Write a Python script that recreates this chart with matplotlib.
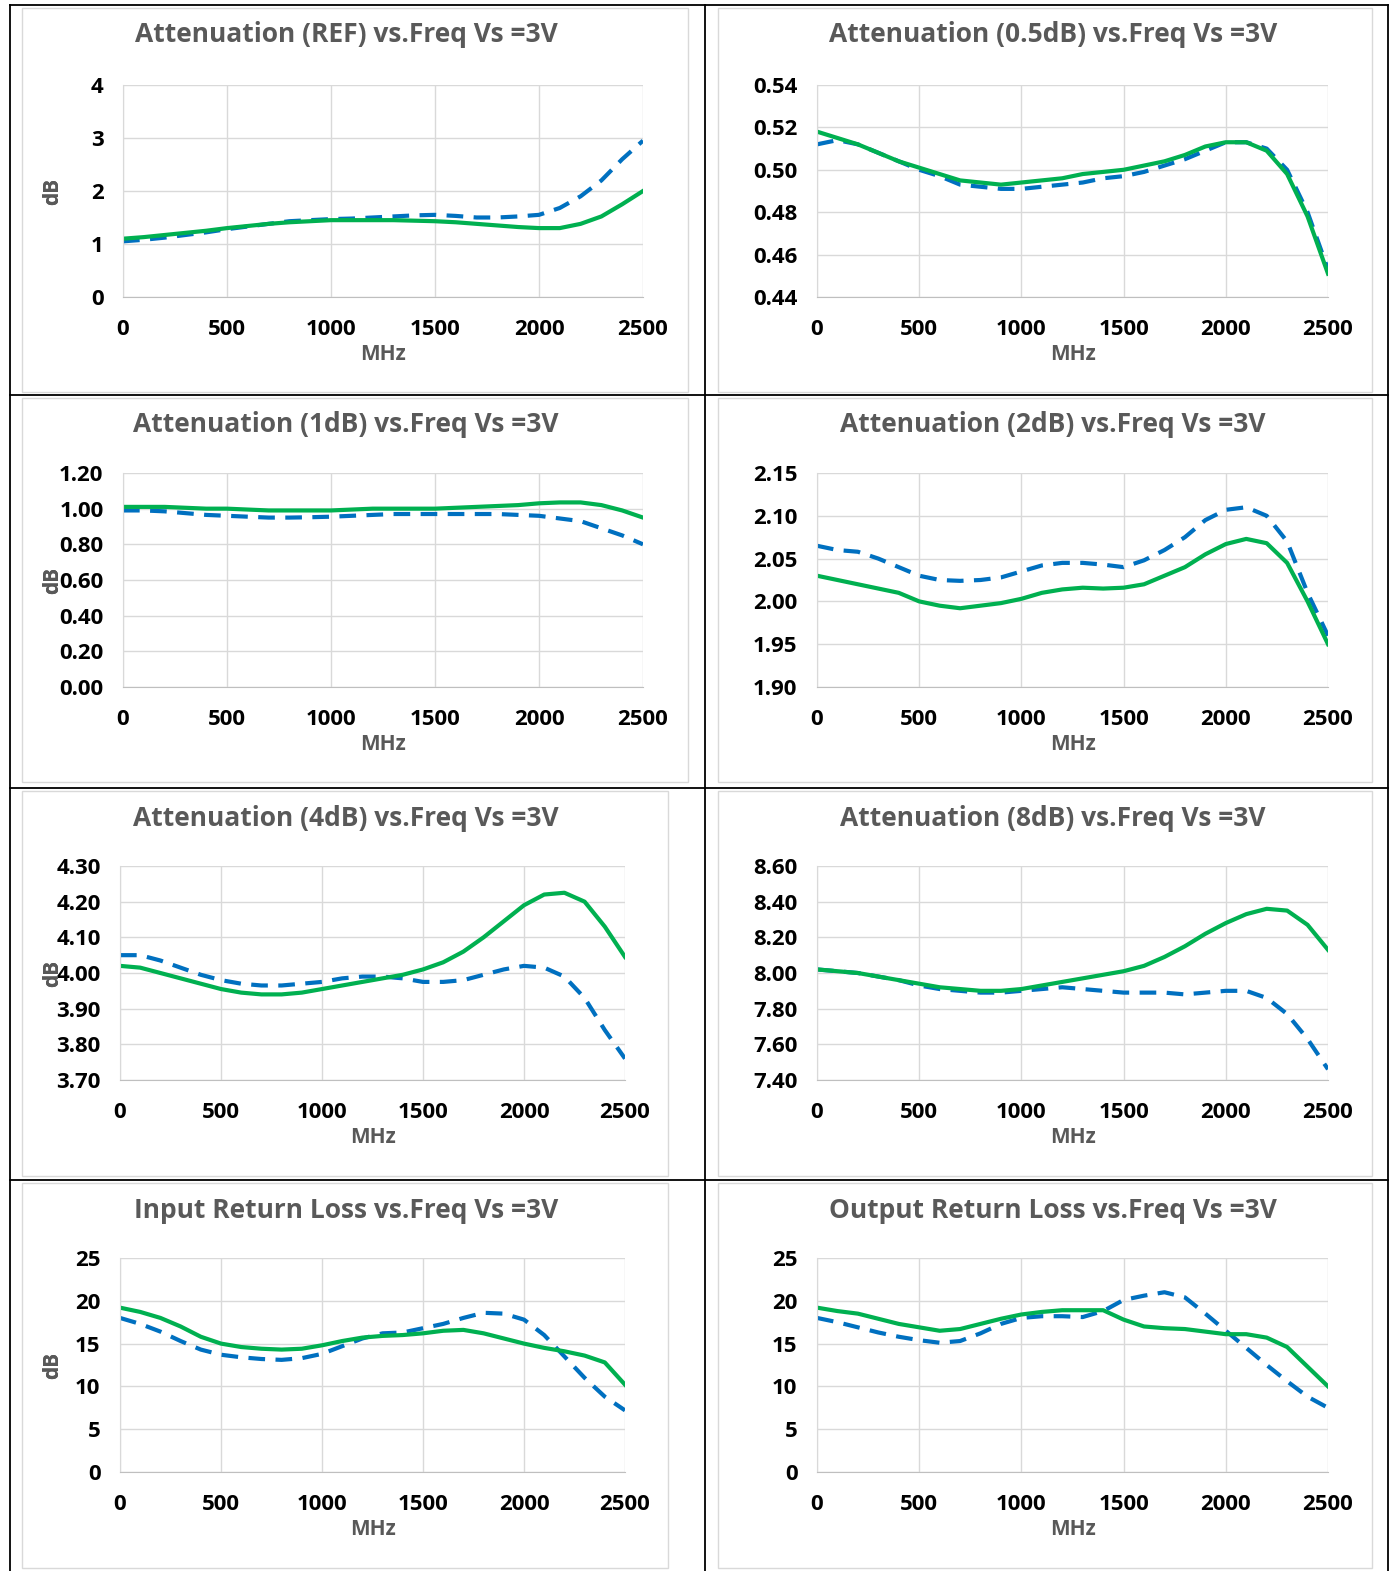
import matplotlib
matplotlib.use("Agg")
import matplotlib.pyplot as plt
from matplotlib.lines import Line2D
from matplotlib.patches import Rectangle

plt.rcParams['font.family'] = ['Open Sans', 'DejaVu Sans']

W, H = 1397, 1571
freq = list(range(0, 2600, 100))

ref_g = [1.1, 1.13, 1.17, 1.21, 1.25, 1.3, 1.34, 1.38, 1.41, 1.43, 1.45, 1.45, 1.45, 1.45, 1.44, 1.43, 1.41, 1.38, 1.35, 1.32, 1.3, 1.3, 1.38, 1.52, 1.75, 2.0]
ref_b = [1.05, 1.08, 1.12, 1.17, 1.22, 1.28, 1.33, 1.38, 1.43, 1.45, 1.47, 1.48, 1.5, 1.52, 1.54, 1.55, 1.53, 1.5, 1.5, 1.52, 1.55, 1.68, 1.9, 2.2, 2.6, 2.95]
h05_g = [0.518, 0.515, 0.512, 0.508, 0.504, 0.501, 0.498, 0.495, 0.494, 0.493, 0.494, 0.495, 0.496, 0.498, 0.499, 0.500, 0.502, 0.504, 0.507, 0.511, 0.513, 0.513, 0.509, 0.498, 0.478, 0.451]
h05_b = [0.512, 0.514, 0.512, 0.508, 0.504, 0.500, 0.497, 0.493, 0.492, 0.491, 0.491, 0.492, 0.493, 0.494, 0.496, 0.497, 0.499, 0.502, 0.505, 0.509, 0.513, 0.513, 0.510, 0.500, 0.480, 0.453]
d1_g = [1.01, 1.01, 1.01, 1.005, 1.0, 1.0, 0.995, 0.99, 0.99, 0.99, 0.99, 0.995, 1.0, 1.0, 1.0, 1.0, 1.005, 1.01, 1.015, 1.02, 1.03, 1.035, 1.035, 1.02, 0.99, 0.95]
d1_b = [0.99, 0.99, 0.985, 0.975, 0.965, 0.96, 0.955, 0.95, 0.95, 0.952, 0.955, 0.96, 0.965, 0.97, 0.97, 0.97, 0.97, 0.97, 0.97, 0.965, 0.96, 0.945, 0.93, 0.89, 0.85, 0.8]
d2_g = [2.03, 2.025, 2.02, 2.015, 2.01, 2.0, 1.995, 1.992, 1.995, 1.998, 2.003, 2.01, 2.014, 2.016, 2.015, 2.016, 2.02, 2.03, 2.04, 2.055, 2.067, 2.073, 2.068, 2.045, 2.0, 1.95]
d2_b = [2.065, 2.06, 2.058, 2.05, 2.04, 2.03, 2.025, 2.024, 2.025, 2.028, 2.035, 2.042, 2.045, 2.045, 2.043, 2.04, 2.048, 2.06, 2.075, 2.095, 2.107, 2.11, 2.1, 2.07, 2.01, 1.96]
d4_g = [4.02, 4.015, 4.0, 3.985, 3.97, 3.955, 3.945, 3.94, 3.94, 3.945, 3.955, 3.965, 3.975, 3.985, 3.995, 4.01, 4.03, 4.06, 4.1, 4.145, 4.19, 4.22, 4.225, 4.2, 4.13, 4.045]
d4_b = [4.05, 4.05, 4.035, 4.015, 3.995, 3.98, 3.97, 3.965, 3.965, 3.97, 3.975, 3.985, 3.99, 3.99, 3.985, 3.975, 3.975, 3.98, 3.995, 4.01, 4.02, 4.015, 3.99, 3.93, 3.84, 3.76]
d8_g = [8.02, 8.01, 8.0, 7.98, 7.96, 7.94, 7.92, 7.91, 7.9, 7.9, 7.91, 7.93, 7.95, 7.97, 7.99, 8.01, 8.04, 8.09, 8.15, 8.22, 8.28, 8.33, 8.36, 8.35, 8.27, 8.13]
d8_b = [8.02, 8.01, 8.0, 7.98, 7.96, 7.93, 7.91, 7.9, 7.89, 7.89, 7.9, 7.91, 7.92, 7.91, 7.9, 7.89, 7.89, 7.89, 7.88, 7.89, 7.9, 7.9, 7.86, 7.77, 7.63, 7.46]
irl_g = [19.2, 18.7, 18.0, 17.0, 15.8, 15.0, 14.6, 14.4, 14.3, 14.4, 14.8, 15.3, 15.7, 15.9, 16.0, 16.2, 16.5, 16.6, 16.2, 15.6, 15.0, 14.5, 14.1, 13.6, 12.8, 10.2]
irl_b = [18.0, 17.3, 16.4, 15.3, 14.3, 13.7, 13.4, 13.2, 13.1, 13.3, 13.8, 14.7, 15.6, 16.2, 16.3, 16.8, 17.3, 18.0, 18.6, 18.5, 17.8, 16.0, 13.5, 11.0, 8.8, 7.2]
orl_g = [19.2, 18.8, 18.5, 17.9, 17.3, 16.9, 16.5, 16.7, 17.3, 17.9, 18.4, 18.7, 18.9, 18.9, 18.9, 17.8, 17.0, 16.8, 16.7, 16.4, 16.1, 16.1, 15.7, 14.6, 12.3, 10.0]
orl_b = [18.0, 17.5, 16.9, 16.3, 15.8, 15.4, 15.1, 15.3, 16.2, 17.3, 18.0, 18.2, 18.2, 18.1, 18.8, 20.1, 20.6, 21.0, 20.4, 18.5, 16.5, 14.5, 12.5, 10.6, 8.8, 7.5]

panels = [
    ("Attenuation (REF) vs.Freq Vs =3V", [0, 1, 2, 3, 4], "{:.0f}", ref_g, ref_b),
    ("Attenuation (0.5dB) vs.Freq Vs =3V", [0.44, 0.46, 0.48, 0.50, 0.52, 0.54], "{:.2f}", h05_g, h05_b),
    ("Attenuation (1dB) vs.Freq Vs =3V", [0, 0.2, 0.4, 0.6, 0.8, 1.0, 1.2], "{:.2f}", d1_g, d1_b),
    ("Attenuation (2dB) vs.Freq Vs =3V", [1.90, 1.95, 2.00, 2.05, 2.10, 2.15], "{:.2f}", d2_g, d2_b),
    ("Attenuation (4dB) vs.Freq Vs =3V", [3.7, 3.8, 3.9, 4.0, 4.1, 4.2, 4.3], "{:.2f}", d4_g, d4_b),
    ("Attenuation (8dB) vs.Freq Vs =3V", [7.4, 7.6, 7.8, 8.0, 8.2, 8.4, 8.6], "{:.2f}", d8_g, d8_b),
    ("Input Return Loss vs.Freq Vs =3V", [0, 5, 10, 15, 20, 25], "{:.0f}", irl_g, irl_b),
    ("Output Return Loss vs.Freq Vs =3V", [0, 5, 10, 15, 20, 25], "{:.0f}", orl_g, orl_b),
]

boxes = [
    (123, 85, 643, 297), (817, 85, 1328, 297),
    (123, 473, 643, 687), (817, 473, 1328, 687),
    (120, 866, 625, 1080), (817, 866, 1328, 1080),
    (120, 1258, 625, 1472), (817, 1258, 1328, 1472),
]
cells = [(22, 8, 688, 392), (718, 8, 1372, 392), (22, 398, 688, 782), (718, 398, 1372, 782),
         (22, 791, 668, 1176), (718, 791, 1372, 1176), (22, 1183, 668, 1568), (718, 1183, 1372, 1568)]
title_x = [346, 1053] * 4

fig = plt.figure(figsize=(W / 100, H / 100), dpi=100)

for (x0, y0, x1, y1) in cells:
    fig.add_artist(Rectangle((x0 / W, 1 - y1 / H), (x1 - x0) / W, (y1 - y0) / H,
                             transform=fig.transFigure, fill=False, ec='#d9d9d9', lw=1))
for x in [10, 705, 1388]:
    fig.add_artist(Line2D([x / W, x / W], [1 - 5 / H, 0], transform=fig.transFigure, color='black', lw=1.3))
for y in [5, 395, 788, 1180]:
    fig.add_artist(Line2D([10 / W, 1388 / W], [1 - y / H, 1 - y / H], transform=fig.transFigure, color='black', lw=1.3))

for (title, yt, fmt, g, b), (l, t, r, bt), cell, tx in zip(panels, boxes, cells, title_x):
    ax = fig.add_axes([l / W, 1 - bt / H, (r - l) / W, (bt - t) / H])
    ax.plot(freq, b, color='#0070C0', lw=3, ls=(0, (4, 2.5)))
    ax.plot(freq, g, color='#00B050', lw=3)
    ax.set_xlim(0, 2500)
    ax.set_ylim(yt[0], yt[-1])
    ax.set_xticks(range(0, 2501, 500))
    ax.set_yticks(yt)
    ax.set_yticklabels([fmt.format(v) for v in yt])
    ax.grid(True, color='#d9d9d9', lw=1)
    for s in ax.spines.values():
        s.set_visible(False)
    ax.spines['bottom'].set_visible(True)
    ax.spines['bottom'].set_color('#bfbfbf')
    ax.spines['left'].set_visible(True)
    ax.spines['left'].set_color('#d9d9d9')
    ax.tick_params(axis='x', length=0, labelsize=16, pad=16)
    ax.tick_params(axis='y', length=0, labelsize=16, pad=14)
    for lab in ax.get_xticklabels() + ax.get_yticklabels():
        lab.set_fontweight('bold')
    ax.set_xlabel("MHz", fontsize=15, fontweight='bold', color='#595959', labelpad=3)
    ax.yaxis.set_label_coords((63 - l) / (r - l), 0.5)
    ax.set_ylabel("dB", fontsize=15, fontweight='bold', color='#595959')
    fig.text(tx / W, 1 - (cell[1] + 27) / H, title, ha='center', va='center',
             fontsize=19, fontweight='bold', color='#595959')

fig.savefig("out.png", dpi=100)
